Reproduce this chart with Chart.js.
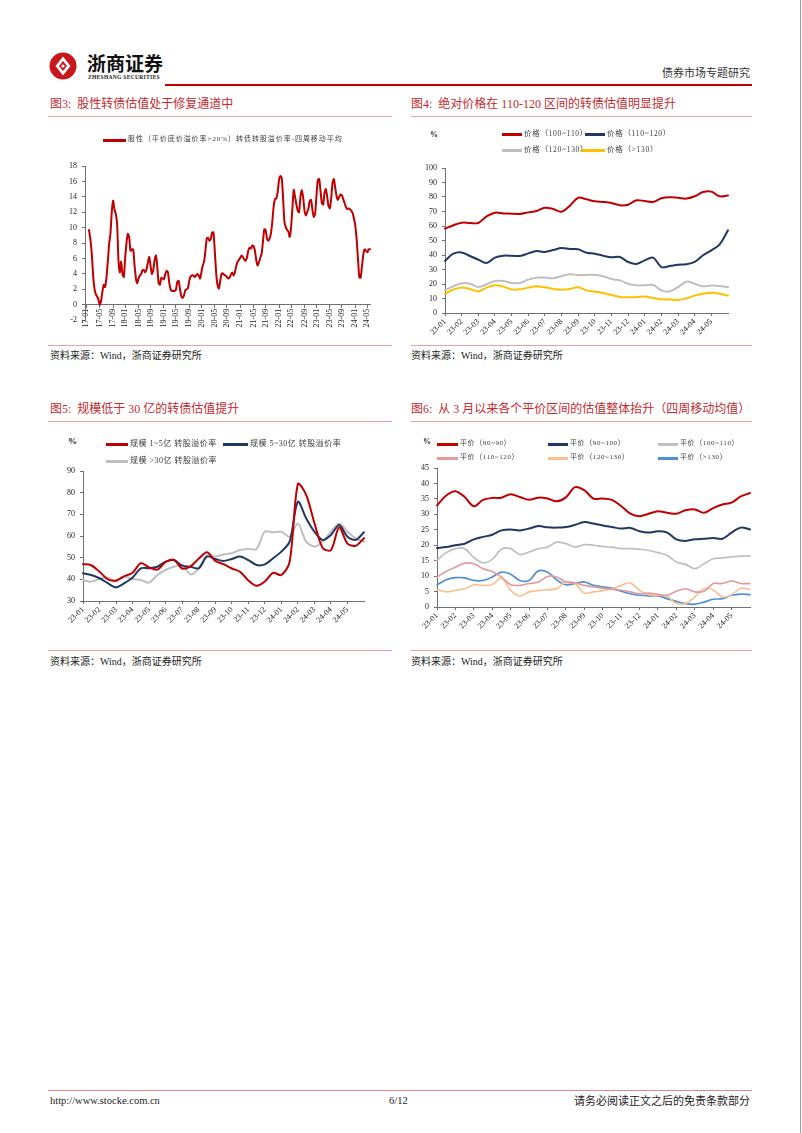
<!DOCTYPE html>
<html lang="zh-CN">
<head>
<meta charset="utf-8">
<title>债券市场专题研究</title>
<script src="https://cdn.jsdelivr.net/npm/chart.js@4.4.1/dist/chart.umd.min.js"></script>
<style>
  html, body { margin: 0; padding: 0; background: #fff; }
  body { width: 802px; height: 1133px; position: relative; overflow: hidden;
         font-family: "Liberation Serif", "Noto Sans CJK SC", serif; }
  .abs { position: absolute; white-space: nowrap; line-height: 1; }
  .rule { position: absolute; height: 1px; background: #eaa3a5; }
  .title { position: absolute; font-size: 12px; color: #c62a2f; white-space: nowrap; line-height: 1; }
  .src { position: absolute; font-size: 10px; color: #222; white-space: nowrap; line-height: 1; }
  .lg { position: absolute; color: #3a3a3a; white-space: nowrap; line-height: 1; }
  .lgline { position: absolute; height: 2.5px; }
  canvas { position: absolute; }
</style>
</head>
<body>
<!-- header -->
<svg class="abs" style="left:49px;top:52px" width="28" height="28" viewBox="0 0 28 28">
  <circle cx="14" cy="14" r="13.5" fill="#c8161d"/>
  <path d="M14 4.5 L21.5 14 L14 23.5 L6.5 14 Z" fill="#fff"/>
  <path d="M14 9 L18 14 L14 19 L10 14 Z" fill="#c8161d"/>
  <circle cx="14" cy="14" r="1.6" fill="#fff"/>
</svg>
<div class="abs" style="left:87px;top:53px;font-family:'Noto Sans CJK SC';font-weight:bold;font-size:19px;color:#111">浙商证券</div>
<div class="abs" style="left:88px;top:75px;font-weight:bold;font-size:5.6px;letter-spacing:0.25px;color:#222">ZHESHANG SECURITIES</div>
<div class="abs" style="left:165px;top:84px;width:587px;height:2px;background:#c00000"></div>
<div class="abs" style="right:52px;top:67px;font-family:'Noto Sans CJK SC';font-size:11px;color:#333">债券市场专题研究</div>

<!-- titles and rules -->
<div class="title" style="left:50px;top:98px">图3:&nbsp;&nbsp;股性转债估值处于修复通道中</div>
<div class="title" style="left:411px;top:98px">图4:&nbsp;&nbsp;绝对价格在 110-120 区间的转债估值明显提升</div>
<div class="rule" style="left:48px;top:116px;width:344px"></div>
<div class="rule" style="left:411px;top:116px;width:341px"></div>
<div class="rule" style="left:48px;top:345px;width:344px"></div>
<div class="rule" style="left:411px;top:345px;width:341px"></div>
<div class="src" style="left:50px;top:351px">资料来源：Wind，浙商证券研究所</div>
<div class="src" style="left:411px;top:351px">资料来源：Wind，浙商证券研究所</div>

<div class="title" style="left:50px;top:403px">图5:&nbsp;&nbsp;规模低于 30 亿的转债估值提升</div>
<div class="title" style="left:411px;top:403px">图6:&nbsp;&nbsp;从 3 月以来各个平价区间的估值整体抬升（四周移动均值）</div>
<div class="rule" style="left:48px;top:421px;width:344px"></div>
<div class="rule" style="left:411px;top:421px;width:341px"></div>
<div class="rule" style="left:48px;top:650px;width:344px"></div>
<div class="rule" style="left:411px;top:650px;width:341px"></div>
<div class="src" style="left:50px;top:657px">资料来源：Wind，浙商证券研究所</div>
<div class="src" style="left:411px;top:657px">资料来源：Wind，浙商证券研究所</div>

<canvas id="c3" width="330" height="180" style="left:48px;top:150px"></canvas>
<canvas id="c4" width="345" height="195" style="left:405px;top:150px"></canvas>
<canvas id="c5" width="330" height="190" style="left:48px;top:455px"></canvas>
<canvas id="c6" width="350" height="190" style="left:405px;top:455px"></canvas>

<!-- footer -->
<div class="abs" style="left:48px;top:1090px;width:704px;height:1px;background:#e08a8c"></div>
<div class="abs" style="left:50px;top:1096px;font-size:10.5px;color:#222">http://www.stocke.com.cn</div>
<div class="abs" style="left:389px;top:1096px;font-size:10.5px;color:#222">6/12</div>
<div class="abs" style="right:52px;top:1095px;font-family:'Noto Sans CJK SC';font-size:11px;color:#222">请务必阅读正文之后的免责条款部分</div>
<div class="abs" style="left:800px;top:0;width:1px;height:1133px;background:#9a9a9a"></div>

<script>
// ---------- data ----------
const RED = "#c00000", NAVY = "#1f3864", GRAY = "#bfbfbf", GOLD = "#ffc000",
      PINK = "#e6999b", PEACH = "#f9bf8f", BLUE = "#4f8fd9", AXIS = "#6f6f6f";

// 图3: roughly two points a month, 2017-01 .. 2024-05
const ticks3 = ["17-01", "17-05", "17-09", "18-01", "18-05", "18-09", "19-01", "19-05", "19-09",
                "20-01", "20-05", "20-09", "21-01", "21-05", "21-09", "22-01", "22-05", "22-09",
                "23-01", "23-05", "23-09", "24-01", "24-05"];
const name3 = "股性（平价底价溢价率>20%）转债转股溢价率-四周移动平均";
const values3 = [null, null, null,
  9.7, 8.5, 6.8, 4.0, 2.2, 1.4, 1.1, 0.7, 0.0, 0.5,
  1.7, 2.6, 2.3, 3.5, 5.5, 7.8, 9.2, 12.0, 13.5, 12.4,
  11.8, 10.5, 5.8, 4.2, 5.6, 4.0, 3.6, 6.0, 8.0, 9.2,
  8.8, 7.0, 7.2, 7.2, 5.2, 3.5, 2.8, 3.4, 3.8, 4.0,
  4.5, 4.5, 4.2, 4.6, 5.5, 6.2, 5.0, 4.0, 4.5, 5.8,
  6.4, 5.0, 2.8, 2.6, 3.5, 3.4, 3.3, 4.0, 4.4, 4.2,
  2.8, 2.0, 1.8, 1.8, 1.8, 2.0, 3.0, 3.1, 2.0, 1.1,
  0.9, 1.2, 1.9, 2.0, 2.2, 3.2, 3.7, 3.8, 3.8, 3.6,
  3.8, 4.0, 3.8, 3.4, 4.2, 5.1, 5.6, 7.0, 8.6, 8.7,
  8.3, 8.5, 9.4, 9.4, 7.0, 4.2, 2.6, 2.1, 3.0, 4.0,
  4.1, 3.9, 3.8, 3.6, 3.4, 3.5, 3.9, 4.2, 3.8, 4.2,
  5.0, 5.6, 5.8, 6.1, 6.4, 6.2, 5.9, 5.7, 6.1, 7.0,
  7.4, 7.3, 7.7, 7.6, 7.0, 5.8, 5.1, 5.5, 6.1, 6.6,
  8.2, 9.8, 9.7, 8.6, 8.3, 8.6, 9.3, 10.8, 12.8, 13.7,
  13.8, 14.6, 16.2, 16.7, 16.5, 14.0, 10.8, 10.1, 9.7, 9.5,
  8.8, 10.0, 12.5, 14.9, 14.0, 13.0, 12.2, 12.0, 14.0, 14.9,
  14.0, 12.3, 11.6, 12.0, 12.5, 13.5, 13.6, 12.3, 11.4, 11.8,
  14.2, 16.2, 16.3, 14.8, 13.2, 13.0, 14.5, 15.0, 14.0, 12.8,
  12.5, 13.8, 15.8, 16.3, 15.2, 14.1, 13.6, 14.0, 14.3, 14.2,
  13.7, 13.2, 12.7, 12.4, 12.5, 12.4, 12.2, 11.9, 11.2, 10.3,
  8.5, 6.0, 3.6, 3.5, 5.0, 6.5, 7.2, 7.0, 6.8, 7.2,
  7.2];

// 图4-图6: two points a month, 2023-01 .. 2024-05
const monthTicks = ["23-01", "23-02", "23-03", "23-04", "23-05", "23-06", "23-07", "23-08", "23-09",
                    "23-10", "23-11", "23-12", "24-01", "24-02", "24-03", "24-04", "24-05"];

const names4 = ["价格（100~110）", "价格（110~120）", "价格（120~130）", "价格（>130）"];
const price100 = [58.2, 60.5, 62.3, 62.1, 62.1, 66.7, 69.2, 68.7, 68.5, 68.3, 69.4, 70.3, 72.6, 71.7, 69.9, 74.0, 79.5, 78.4,
                  77.0, 76.6, 75.9, 74.3, 74.7, 77.7, 77.2, 76.6, 79.1, 79.8, 79.5, 78.9, 80.5, 83.4, 83.7, 80.5, 81.1];
const price110 = [35.9, 40.9, 41.8, 39.3, 36.8, 34.5, 38.2, 39.5, 39.5, 39.3, 41.1, 42.8, 42.1, 43.4, 44.8, 44.1, 43.9, 41.6,
                  40.9, 39.5, 38.4, 38.6, 35.2, 33.8, 36.3, 38.2, 31.7, 32.4, 33.3, 33.6, 35.2, 39.8, 43.2, 47.4, 57.0];
const price120 = [15.6, 18.4, 20.5, 20.2, 17.9, 19.8, 22.1, 22.1, 20.7, 20.7, 23.0, 24.4, 24.4, 23.9, 25.5, 26.7, 26.2, 26.2,
                  26.4, 25.3, 23.4, 22.5, 20.2, 19.1, 19.1, 19.3, 15.6, 14.9, 17.9, 21.6, 20.2, 18.4, 18.9, 18.6, 17.9];
const price130 = [13.3, 16.1, 17.5, 16.6, 14.9, 17.5, 19.1, 18.2, 16.3, 16.3, 17.5, 18.4, 17.7, 16.6, 16.1, 16.6, 17.7, 15.6,
                  14.7, 13.8, 12.4, 11.0, 10.8, 11.0, 11.3, 10.3, 9.4, 9.4, 9.0, 10.1, 12.0, 13.3, 14.0, 13.3, 12.0];

const names5 = ["规模 1~5亿 转股溢价率", "规模 5~30亿 转股溢价率", "规模 >30亿 转股溢价率"];
const size1to5 = [47.0, 46.5, 43.5, 40.0, 39.5, 41.5, 43.0, 47.5, 45.5, 44.5, 48.0, 49.0, 45.0, 46.0, 49.5, 52.5, 48.5, 47.0,
                  45.0, 43.5, 39.5, 37.0, 39.0, 43.0, 42.0, 48.0, 84.0, 79.0, 66.0, 54.5, 53.5, 64.0, 56.5, 55.5, 59.0];
const size5to30 = [42.8, 42.0, 40.5, 38.2, 36.3, 38.2, 40.8, 45.1, 45.1, 45.8, 48.2, 48.9, 46.3, 45.8, 45.1, 50.5, 49.4, 48.5,
                   49.4, 50.5, 48.9, 46.6, 46.9, 49.7, 52.8, 57.4, 75.8, 68.2, 62.0, 58.2, 60.5, 65.1, 59.7, 58.2, 61.7];
const sizeOver30 = [39.7, 38.9, 40.2, 40.8, 38.9, 41.2, 40.2, 39.7, 38.5, 42.0, 44.3, 45.8, 46.6, 42.3, 45.1, 51.2, 50.5, 51.5,
                    52.0, 53.5, 54.0, 54.0, 62.0, 61.7, 62.0, 59.7, 65.8, 57.4, 55.1, 57.4, 62.0, 65.8, 62.0, 58.9, 57.4];

const names6 = ["平价（80~90）", "平价（90~100）", "平价（100~110）", "平价（110~120）", "平价（120~130）", "平价（>130）"];
const parity80 = [32.9, 36.1, 37.5, 35.6, 32.6, 34.7, 35.3, 35.4, 36.5, 35.6, 34.7, 35.4, 35.1, 34.2, 35.5, 38.8, 37.8, 35.1,
                  35.1, 34.7, 32.7, 30.2, 29.4, 30.2, 31.0, 30.5, 30.2, 31.3, 31.6, 30.5, 32.0, 33.2, 33.8, 35.8, 36.9];
const parity90 = [19.1, 19.4, 20.0, 20.5, 21.9, 22.7, 23.4, 24.8, 25.1, 24.8, 25.4, 26.2, 25.8, 25.7, 25.9, 26.6, 27.5, 27.0,
                  26.4, 25.9, 25.4, 25.6, 24.5, 24.1, 24.5, 24.1, 21.9, 21.4, 21.9, 22.1, 22.3, 22.1, 24.1, 25.7, 25.1];
const parity100 = [15.1, 17.6, 18.9, 18.9, 16.0, 14.3, 15.4, 18.7, 18.9, 17.0, 17.8, 18.9, 19.4, 21.0, 20.5, 19.4, 20.2, 20.0,
                   19.6, 19.4, 18.9, 18.9, 18.7, 18.3, 17.6, 16.7, 14.6, 13.8, 12.4, 14.0, 15.6, 15.9, 16.2, 16.5, 16.5];
const parity110 = [9.7, 11.5, 12.9, 14.2, 14.0, 12.4, 11.5, 9.7, 7.2, 7.0, 7.6, 8.1, 9.9, 9.7, 8.1, 7.8, 7.0, 6.5,
                   6.1, 5.7, 5.4, 4.9, 4.3, 4.5, 4.1, 3.8, 5.1, 5.9, 4.9, 5.1, 7.6, 7.6, 8.4, 7.6, 7.6];
const parity120 = [5.6, 4.9, 5.4, 5.9, 7.2, 7.0, 7.3, 9.4, 5.4, 3.6, 4.9, 5.3, 5.6, 5.9, 8.1, 7.6, 4.5, 4.9,
                   5.3, 5.9, 7.0, 7.8, 5.4, 4.0, 3.8, 3.5, 1.1, 1.1, 3.2, 5.9, 5.6, 3.2, 4.0, 6.1, 5.7];
const parity130 = [7.2, 8.8, 9.5, 9.4, 8.6, 8.6, 9.7, 11.3, 10.6, 8.6, 8.6, 11.7, 11.3, 8.8, 7.2, 7.6, 8.1, 7.0,
                   6.5, 6.1, 5.1, 4.3, 3.8, 3.6, 3.6, 2.7, 1.8, 1.1, 0.9, 1.6, 2.5, 2.7, 3.8, 4.2, 4.0];

// ---------- categories ----------
// 图3 sample dates, about 0.42 month apart, as "YY-MM"
const dates3 = values3.map(function (v, i) {
    const m = Math.floor((i - 1) * 4 / 9.545);
    const y = 17 + Math.floor(m / 12);
    const mm = ((m % 12) + 12) % 12 + 1;
    return y + "-" + (mm < 10 ? "0" : "") + mm;
});
const halfMonths = function (n) {
    const out = [];
    for (let k = 0; k < n; k++) out.push(k % 2 === 0 && monthTicks[k / 2] ? monthTicks[k / 2] : "");
    return out;
};

// ---------- chart helper ----------
const tickFont = { family: "Liberation Serif", size: 8 };

function makeChart(id, labels, datasets, opt) {
    return new Chart(document.getElementById(id).getContext("2d"), {
        type: "line",
        data: { labels: labels, datasets: datasets },
        options: {
            responsive: false,
            animation: false,
            layout: { padding: opt.padding },
            plugins: { legend: { display: false }, tooltip: { enabled: false } },
            elements: { point: { radius: 0 }, line: { tension: opt.tension, borderCapStyle: "round" } },
            scales: {
                x: {
                    type: "category",
                    position: opt.xPos || "bottom",
                    offset: false,
                    grid: { display: true, drawOnChartArea: false, drawTicks: true, tickLength: 3, color: AXIS },
                    border: { display: true, color: AXIS, width: 1 },
                    ticks: {
                        autoSkip: false, maxRotation: opt.rot, minRotation: opt.rot, padding: 1,
                        color: "#222", font: tickFont, callback: opt.xLabel,
                    },
                    afterFit: function (s) { s.height = opt.xH; },
                },
                y: {
                    min: opt.min, max: opt.max,
                    grid: { display: true, drawOnChartArea: false, drawTicks: true, tickLength: 3, color: AXIS },
                    border: { display: true, color: AXIS, width: 1 },
                    ticks: { stepSize: opt.step, padding: 5, color: "#222", font: tickFont },
                    afterFit: function (s) { s.width = opt.yW; },
                },
            },
        },
    });
}

function series(data, color, width) {
    return { data: data, borderColor: color, borderWidth: width, fill: false, pointRadius: 0 };
}

function legendItem(x, y, w, color, text, size, spacing) {
    const line = document.createElement("div");
    line.className = "lgline";
    line.style.cssText = "left:" + x + "px;top:" + (y - 1) + "px;width:" + w + "px;background:" + color;
    const t = document.createElement("div");
    t.className = "lg";
    t.textContent = text;
    t.style.cssText = "left:" + (x + w + 2) + "px;top:" + (y - size / 2 - 0.5) + "px;font-size:" + size +
        "px;letter-spacing:" + spacing + "px";
    document.body.append(line, t);
}

function percentMark(x, y, size) {
    const t = document.createElement("div");
    t.className = "lg";
    t.textContent = "%";
    t.style.cssText = "left:" + x + "px;top:" + y + "px;font-size:" + size + "px;font-weight:bold;color:#222";
    document.body.append(t);
}

// ---------- 图3 ----------
makeChart("c3", dates3, [series(values3, RED, 2)], {
    padding: { top: 16, right: 8, left: 0, bottom: 0 },
    tension: 0.2, min: -2, max: 18, step: 2, yW: 37, xH: 10, rot: 90, xPos: { y: 0 },
    xLabel: function (value, index) {
        const lab = dates3[index];
        return ticks3.includes(lab) && dates3[index - 1] !== lab ? lab : null;
    },
});
legendItem(103, 140, 23, RED, name3, 7, 0.95);

const monthLabel = function (value) {
    const lab = this.getLabelForValue(value);
    return lab ? lab : null;
};

// ---------- 图4 ----------
makeChart("c4", halfMonths(price100.length), [
    series(price100, RED, 2), series(price110, NAVY, 2),
    series(price120, GRAY, 2), series(price130, GOLD, 2),
], {
    padding: { top: 18, right: 22, left: 0, bottom: 0 },
    tension: 0.35, min: 0, max: 100, step: 10, yW: 40, xH: 32, rot: 45, xLabel: monthLabel,
});
percentMark(430, 131, 8);
legendItem(502, 134, 20, RED, names4[0], 7.5, 0.7);
legendItem(585, 134, 20, NAVY, names4[1], 7.5, 0.7);
legendItem(502, 150, 20, GRAY, names4[2], 7.5, 0.7);
legendItem(582, 150, 23, GOLD, names4[3], 7.5, 0.7);

// ---------- 图5 ----------
makeChart("c5", halfMonths(size1to5.length), [
    series(size1to5, RED, 2), series(size5to30, NAVY, 2), series(sizeOver30, GRAY, 2),
], {
    padding: { top: 16, right: 14, left: 0, bottom: 0 },
    tension: 0.3, min: 30, max: 90, step: 10, yW: 35, xH: 44, rot: 45, xLabel: monthLabel,
});
percentMark(68, 437, 9);
legendItem(106, 444, 22, RED, names5[0], 8, 0.5);
legendItem(223, 444, 25, NAVY, names5[1], 8, 0.5);
legendItem(106, 461, 22, GRAY, names5[2], 8, 0.5);

// ---------- 图6 ----------
makeChart("c6", halfMonths(parity80.length), [
    series(parity80, RED, 2), series(parity90, NAVY, 2), series(parity100, GRAY, 1.7),
    series(parity110, PINK, 1.6), series(parity120, PEACH, 1.6), series(parity130, BLUE, 1.7),
], {
    padding: { top: 13, right: 5, left: 0, bottom: 0 },
    tension: 0.35, min: 0, max: 45, step: 5, yW: 32, xH: 38, rot: 45, xLabel: monthLabel,
});
percentMark(423, 438, 8);
legendItem(437, 444, 21, RED, names6[0], 7, 0.6);
legendItem(548, 444, 20, NAVY, names6[1], 7, 0.6);
legendItem(658, 444, 20, GRAY, names6[2], 7, 0.6);
legendItem(437, 458, 21, PINK, names6[3], 7, 0.6);
legendItem(548, 458, 20, PEACH, names6[4], 7, 0.6);
legendItem(658, 458, 20, BLUE, names6[5], 7, 0.6);
</script>
</body>
</html>
